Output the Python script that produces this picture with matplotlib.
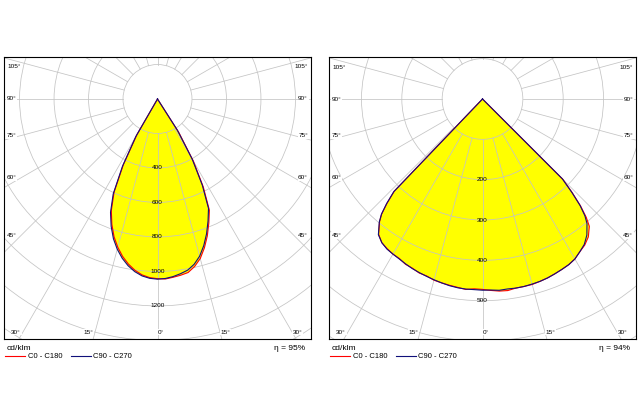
import numpy as np
import matplotlib
matplotlib.use('Agg')
from matplotlib import pyplot as plt
from matplotlib.patches import Circle

plt.rcParams['font.family'] = ['Liberation Sans', 'DejaVu Sans']

# luminaire A (narrow beam), cd/klm
gamma_a = [0, 2.5, 5, 7.5, 10, 12.5, 15, 17.5, 20, 22.5, 25, 27.5, 30, 32.5, 35, 90]
c0_a = [1048, 1045, 1038, 1031, 1022, 995, 958, 905, 845, 778, 712, 575, 416, 230, 0, 0]
c180_a = [1042, 1037, 1024, 1002, 972, 935, 890, 838, 774, 700, 596, 428, 238, 0, 0, 0]
c90_a = [1045, 1042, 1034, 1022, 1008, 982, 944, 892, 832, 766, 700, 562, 402, 215, 0, 0]
c270_a = [1045, 1041, 1030, 1010, 982, 946, 902, 850, 786, 712, 608, 440, 250, 0, 0, 0]
eta_a = 95

# luminaire B (wide beam), cd/klm
gamma_b = [0, 2.5, 5, 7.5, 10, 12.5, 15, 17.5, 20, 22.5, 25, 27.5, 30, 32.5, 35, 37.5,
           40, 41.25, 42.5, 43.75, 45, 46.25, 90]
c0_b = [472, 475, 478, 479, 476, 476, 476, 474, 472, 469, 466, 463, 458, 449, 442, 431,
        412, 390, 360, 322, 282, 0, 0]
c180_b = [472, 471, 474, 471, 469, 467, 465, 460, 459, 454, 452, 446, 444, 440, 435, 423,
          397, 379, 350, 316, 0, 0, 0]
c90_b = [474, 474, 476, 475, 476, 476, 475, 474, 472, 469, 466, 463, 458, 449, 440, 425,
         403, 385, 358, 320, 280, 0, 0]
c270_b = [474, 473, 473, 472, 470, 467, 464, 461, 458, 455, 451, 447, 444, 441, 435, 424,
          398, 380, 352, 318, 0, 0, 0]
eta_b = 94

RED = '#ff0000'
BLUE = '#10107a'
GRID = '#c4c4c4'

BOX_W, BOX_H = 307, 282   # axes size in px
TOP_PX = 42               # px from top of frame down to the curve origin


def plane_xy(gamma, right, left):
    g = np.radians(gamma)
    right = np.asarray(right, float)
    left = np.asarray(left, float)
    x = np.concatenate([-(left * np.sin(g))[::-1], (right * np.sin(g))[1:]])
    y = np.concatenate([-(left * np.cos(g))[::-1], -(right * np.cos(g))[1:]])
    return x, y


def draw_panel(ax, gamma, c0, c180, c90, c270, step, per_px, eta):
    xh = per_px * BOX_W / 2
    ytop = per_px * TOP_PX
    ybot = ytop - per_px * BOX_H
    ax.set_xlim(-xh, xh)
    ax.set_ylim(ybot, ytop)
    ax.set_xticks([])
    ax.set_yticks([])
    for sp in ax.spines.values():
        sp.set_linewidth(0.8)
        sp.set_zorder(10)

    # grid
    rmax = np.hypot(xh, ybot) + step
    rings = np.arange(step, rmax + step, step)
    for r in rings:
        ax.add_patch(Circle((0, 0), r, fill=False, ec=GRID, lw=0.55, zorder=2))
    for a in np.radians(np.arange(0, 360, 15)):
        ax.plot([step * np.sin(a), rmax * np.sin(a)], [-step * np.cos(a), -rmax * np.cos(a)],
                color=GRID, lw=0.55, zorder=2)

    # curves
    xr, yr = plane_xy(gamma, c0, c180)
    xb, yb = plane_xy(gamma, c90, c270)
    ax.fill(xr, yr, color='#ffff00', lw=0, zorder=1)
    ax.fill(xb, yb, color='#ffff00', lw=0, zorder=1)
    l1, = ax.plot(xr, yr, color=RED, lw=0.8, zorder=3)
    l2, = ax.plot(xb, yb, color=BLUE, lw=0.8, zorder=3)

    # ring labels
    for r in rings[1:]:
        if -r > ybot + 5 * per_px:
            ax.text(0, -r, '%d' % r, ha='center', va='center', fontsize=4.6, zorder=4)

    # angle labels on the sides
    box = dict(fc='white', ec='none', pad=0.4)
    xline = xh - 17 * per_px
    for ang in [105, 90, 75, 60, 45]:
        y = -xline / np.tan(np.radians(ang))
        y = min(y, ytop - 10 * per_px)
        for s in (-1, 1):
            ax.text(s * (xh - 3 * per_px), y, '%d°' % ang, ha='left' if s < 0 else 'right',
                    va='center', fontsize=4.6, zorder=5, bbox=box)
    # angle labels on the bottom
    yb_lab = ybot + 7 * per_px
    for ang in [30, 15, 0]:
        x = -yb_lab * np.tan(np.radians(ang))
        if ang == 0:
            ax.text(x, yb_lab, '0°', ha='left', va='center', fontsize=4.6, zorder=5, bbox=box)
            continue
        ax.text(-x - 2 * per_px, yb_lab, '%d°' % ang, ha='right', va='center',
                fontsize=4.6, zorder=5, bbox=box)
        ax.text(x + 1 * per_px, yb_lab, '%d°' % ang, ha='left', va='center',
                fontsize=4.6, zorder=5, bbox=box)

    # footer
    ax.text(0.01, -0.035, 'cd/klm', transform=ax.transAxes, ha='left', va='center', fontsize=6)
    ax.text(0.98, -0.035, 'η = %d%%' % eta, transform=ax.transAxes, ha='right', va='center',
            fontsize=6)
    ax.legend([l1, l2], ['C0 - C180', 'C90 - C270'], loc='upper left',
              bbox_to_anchor=(0.004, -0.05), ncol=2, frameon=False, fontsize=5.5,
              handlelength=2.6, handletextpad=0.35, columnspacing=1.1,
              borderpad=0, borderaxespad=0)


fig = plt.figure(figsize=(6.4, 4.0), dpi=100)
ax1 = fig.add_axes([4 / 640, 1 - 339 / 400, BOX_W / 640, BOX_H / 400])
ax2 = fig.add_axes([329 / 640, 1 - 339 / 400, BOX_W / 640, BOX_H / 400])

draw_panel(ax1, gamma_a, c0_a, c180_a, c90_a, c270_a, 200, 5.80, eta_a)
draw_panel(ax2, gamma_b, c0_b, c180_b, c90_b, c270_b, 100, 2.479, eta_b)

fig.savefig('out.png', dpi=100, facecolor='white')
